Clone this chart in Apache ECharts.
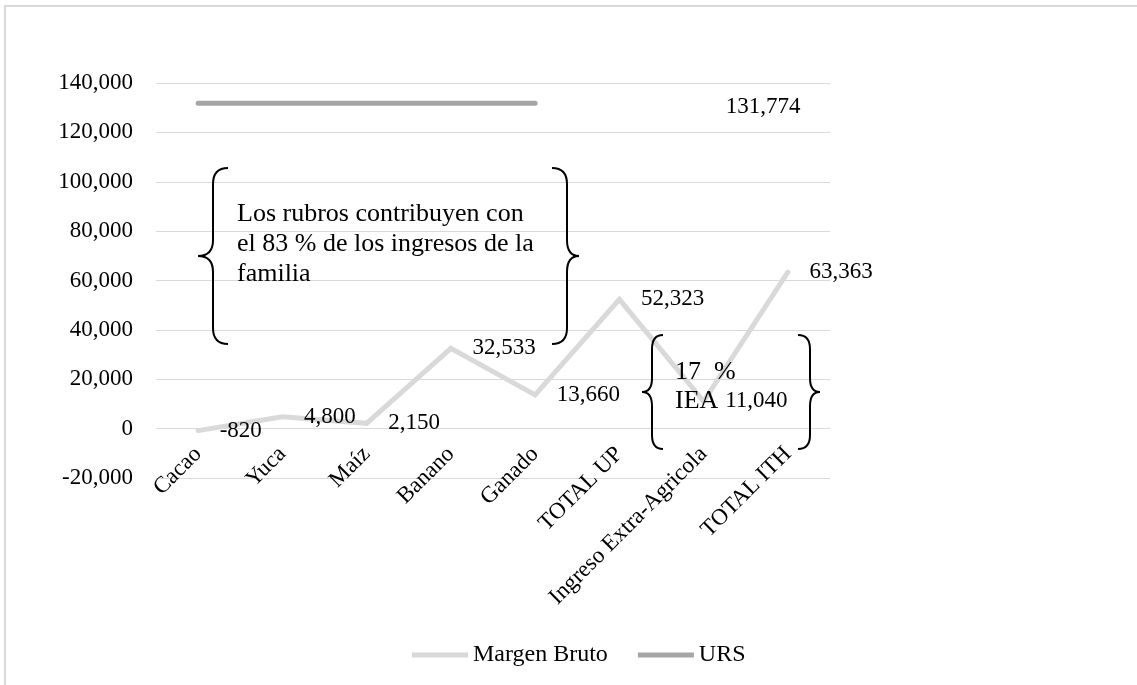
<!DOCTYPE html>
<html>
<head>
<meta charset="utf-8">
<script src="https://cdn.jsdelivr.net/npm/echarts@6/dist/echarts.min.js"></script>
<style>
html,body{margin:0;padding:0;background:#fff;}
#c{width:1137px;height:685px;}
</style>
</head>
<body>
<div id="c"></div>
<script>
const categories = ['Cacao','Yuca','Maíz','Banano','Ganado','TOTAL UP','Ingreso Extra-Agricola','TOTAL ITH'];
const margenBruto = [-820, 4800, 2150, 32533, 13660, 52323, 11040, 63363];
const urs = [131774, 131774, 131774, 131774, 131774, null, null, null];
const yMin = -20000, yMax = 140000, yInterval = 20000;
const seriesNames = ['Margen Bruto', 'URS'];
const note1 = 'Los rubros contribuyen con\nel 83 % de los ingresos de la\nfamilia';
const note2 = '17  %\nIEA';

const FONT = 'Liberation Serif';
const FS = 23;
const NOTE_FS = 26;
const fmt = v => Number(v).toLocaleString('en-US');

function brace(xv, xh, xt, y0, y1, r) {
  const ym = (y0 + y1) / 2;
  const st = {stroke: '#000', lineWidth: 2, fill: null};
  return [
    {type:'bezierCurve', z:50, shape:{x1:xh,y1:y0,cpx1:xv,cpy1:y0,x2:xv,y2:y0+r}, style:st},
    {type:'line', z:50, shape:{x1:xv,y1:y0+r,x2:xv,y2:ym-r}, style:st},
    {type:'bezierCurve', z:50, shape:{x1:xv,y1:ym-r,cpx1:xv,cpy1:ym,x2:xt,y2:ym}, style:st},
    {type:'bezierCurve', z:50, shape:{x1:xt,y1:ym,cpx1:xv,cpy1:ym,x2:xv,y2:ym+r}, style:st},
    {type:'line', z:50, shape:{x1:xv,y1:ym+r,x2:xv,y2:y1-r}, style:st},
    {type:'bezierCurve', z:50, shape:{x1:xv,y1:y1-r,cpx1:xv,cpy1:y1,x2:xh,y2:y1}, style:st}
  ];
}

const gridTop = 83, gridBottom = 207, H = 685;
const gridH = H - gridTop - gridBottom;
const zeroOffset = gridH * (0 - yMin) / (yMax - yMin);

const chart = echarts.init(document.getElementById('c'), null, {renderer:'canvas'});
const lastUrs = urs.reduce((a, v, i) => v != null ? i : a, 0);

const option = {
  animation: false,
  backgroundColor: '#fff',
  textStyle: {fontFamily: FONT},
  grid: {left: 156, right: 307, top: gridTop, bottom: gridBottom, containLabel: false},
  legend: {
    data: seriesNames,
    bottom: 13,
    left: 407,
    icon: 'rect',
    itemWidth: 56,
    itemHeight: 5,
    itemGap: 30,
    textStyle: {fontFamily: FONT, fontSize: 24, color: '#000'}
  },
  xAxis: {
    type: 'category',
    data: categories,
    boundaryGap: true,
    position: 'bottom',
    offset: -zeroOffset,
    axisLine: {show: false, onZero: false},
    axisTick: {show: false},
    axisLabel: {rotate: 45, margin: 22, fontFamily: FONT, fontSize: FS, color: '#000', interval: 0}
  },
  yAxis: {
    type: 'value',
    min: yMin, max: yMax, interval: yInterval,
    axisLine: {show: false},
    axisTick: {show: false},
    splitLine: {lineStyle: {color: '#d9d9d9', width: 1}},
    axisLabel: {margin: 23, fontFamily: FONT, fontSize: FS, color: '#000', formatter: fmt}
  },
  series: [
    {
      name: seriesNames[0], type: 'line', data: margenBruto,
      symbol: 'circle', symbolSize: 1, showSymbol: true,
      itemStyle: {color: '#d9d9d9'},
      lineStyle: {color: '#d9d9d9', width: 5, cap: 'round', join: 'miter'},
      label: {show: true, position: 'right', distance: 21, fontFamily: FONT, fontSize: FS, color: '#000',
        formatter: p => fmt(p.value)},
      z: 3
    },
    {
      name: seriesNames[1], type: 'line', data: urs.map((v, i) => i === lastUrs ? {
          value: v,
          label: {show: true, position: 'right', distance: 190, offset: [0, 4], fontFamily: FONT, fontSize: FS, color: '#000',
            formatter: p => fmt(p.value)}
        } : v),
      symbol: 'circle', symbolSize: 1, showSymbol: true,
      itemStyle: {color: '#a5a5a5'},
      lineStyle: {color: '#a5a5a5', width: 5, cap: 'round'},
      label: {show: false},
      z: 3
    }
  ],
  graphic: [
    {type:'rect', shape:{x:5, y:6, width:1150, height:700}, style:{stroke:'#d9d9d9', lineWidth:2, fill:null}, silent:true},
    ...brace(213, 228, 198, 168, 344, 16),
    ...brace(567, 552, 579, 168, 344, 16),
    ...brace(652, 663, 642, 335, 449, 14),
    ...brace(810, 798, 820, 335, 449, 14),
    {type:'text', z:50, x:237, y:199, style:{text: note1, font: NOTE_FS + 'px "' + FONT + '"', fill:'#000', lineHeight: 30, textVerticalAlign:'top'}},
    {type:'text', z:50, x:675, y:358, style:{text: note2, font: NOTE_FS + 'px "' + FONT + '"', fill:'#000', lineHeight: 29, textVerticalAlign:'top'}}
  ]
};
chart.setOption(option);
</script>
</body>
</html>
